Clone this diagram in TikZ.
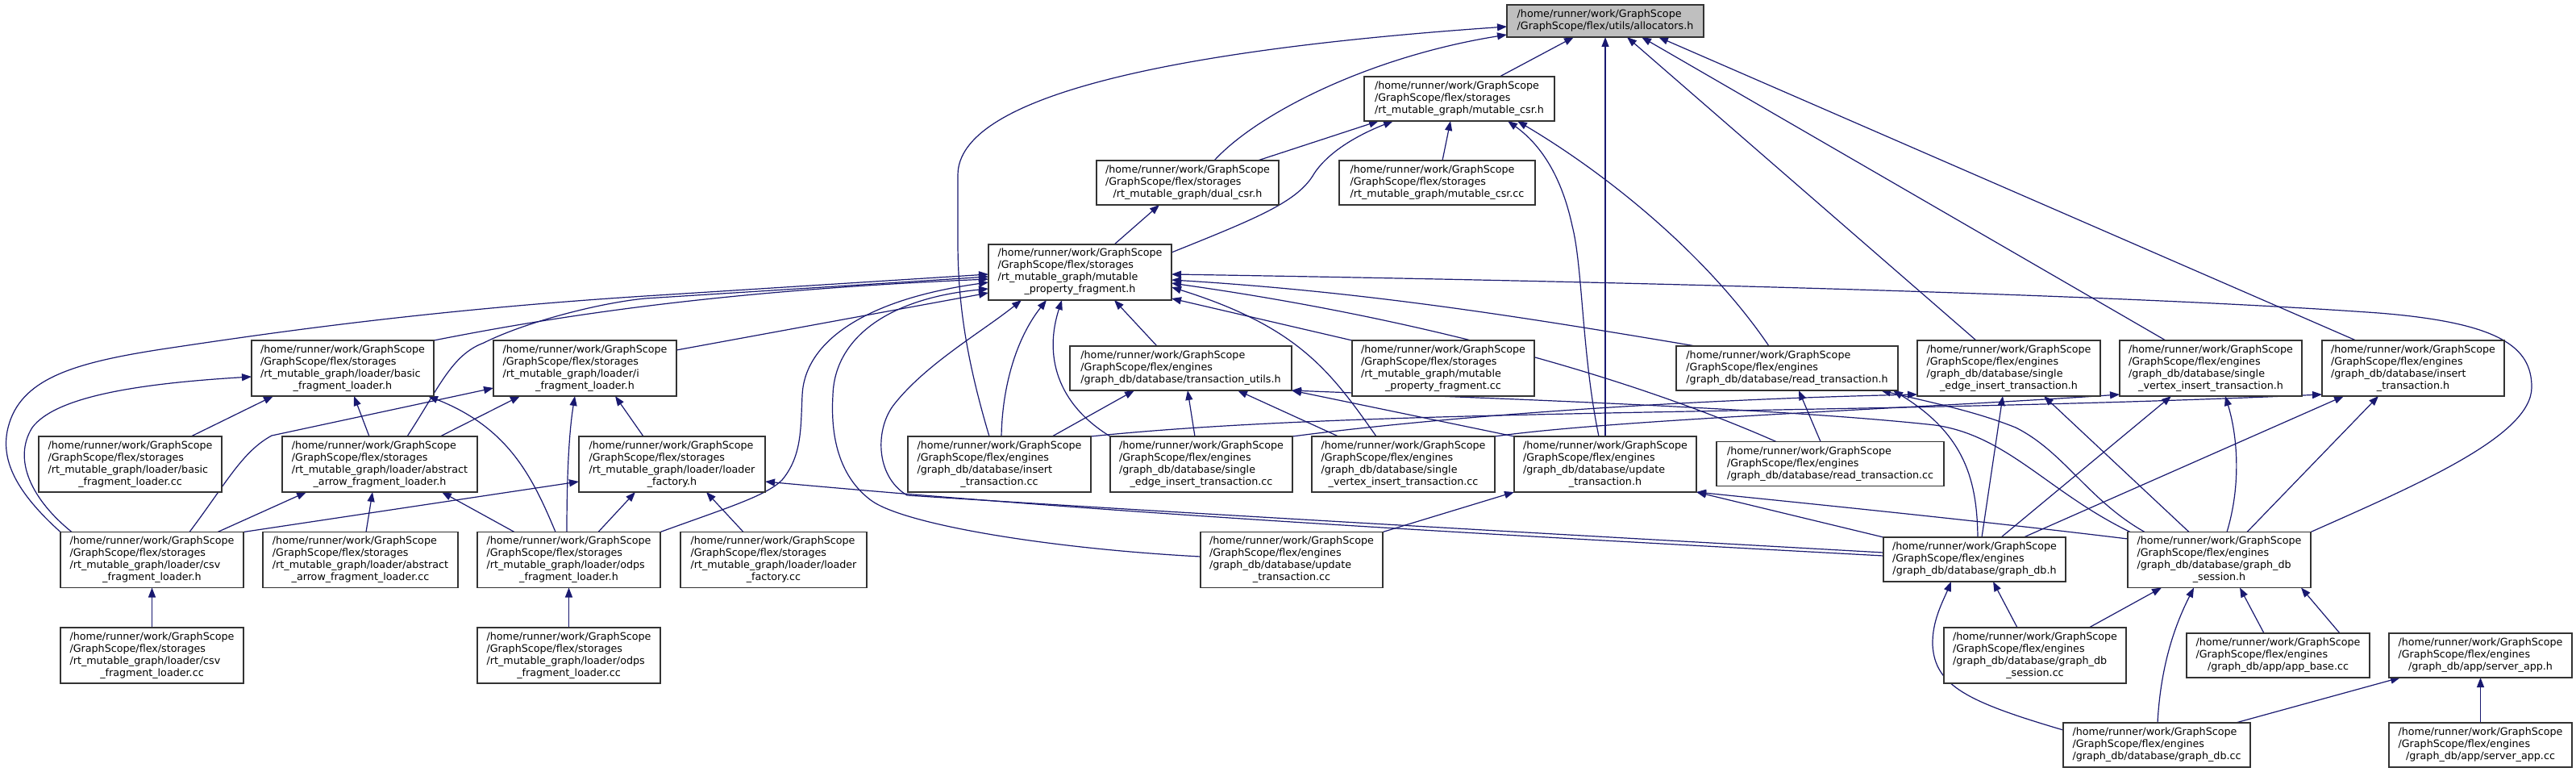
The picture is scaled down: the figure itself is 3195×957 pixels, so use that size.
\documentclass[tikz,border=0pt]{standalone}
\usepackage{fontspec}
\setmainfont{DejaVu Sans}
\usetikzlibrary{arrows.meta,backgrounds}
\definecolor{edgeblue}{HTML}{191970}
\newcommand{\lbox}[1]{\begin{tabular}{@{}l@{}}#1\end{tabular}}
\newcommand{\lastln}[1]{\multicolumn{1}{@{}c@{}}{#1}}
\newcommand{\HomeL}{/home/runner/work/GraphScope}
\newcommand{\StorL}{/GraphScope/flex/storages}
\newcommand{\EngL}{/GraphScope/flex/engines}
\tikzset{
  fb/.style={draw=black!80, fill=white, line width=1.3pt, inner sep=0pt, outer sep=0pt, font=\fontsize{12.7}{15}\selectfont},
  nd/.style 2 args={fb, minimum width=#1, minimum height=#2},
  ed/.style={draw=edgeblue, line width=1.2pt, -{Triangle[length=12pt,width=9pt]}},
}
\begin{document}
\begin{tikzpicture}[x=1pt,y=-1pt]
\useasboundingbox (0,0) rectangle (3195,957);
% ---------------- nodes ----------------
\node[nd={244}{40}, fill=black!25] (alloc) at (1991,26) {\lbox{\HomeL\\\lastln{/GraphScope/flex/utils/allocators.h}}};
\node[nd={236}{55}] (mcsrh) at (1810,122.5) {\lbox{\HomeL\\\StorL\\\lastln{/rt\_mutable\_graph/mutable\_csr.h}}};
\node[nd={243}{55}] (mcsrcc) at (1782.5,226.5) {\lbox{\HomeL\\\StorL\\\lastln{/rt\_mutable\_graph/mutable\_csr.cc}}};
\node[nd={226}{55}] (dual) at (1473,226.5) {\lbox{\HomeL\\\StorL\\\lastln{/rt\_mutable\_graph/dual\_csr.h}}};
\node[nd={227}{69}] (mpf) at (1339.5,337.5) {\lbox{\HomeL\\\StorL\\/rt\_mutable\_graph/mutable\\\lastln{\_property\_fragment.h}}};
% row 4
\node[nd={226}{69}] (bflh) at (425,456.5) {\lbox{\HomeL\\\StorL\\/rt\_mutable\_graph/loader/basic\\\lastln{\_fragment\_loader.h}}};
\node[nd={227}{69}] (iflh) at (725.5,456.5) {\lbox{\HomeL\\\StorL\\/rt\_mutable\_graph/loader/i\\\lastln{\_fragment\_loader.h}}};
\node[nd={275}{55}] (tu) at (1464.5,456.5) {\lbox{\HomeL\\\EngL\\\lastln{/graph\_db/database/transaction\_utils.h}}};
\node[nd={226}{69}] (mpfcc) at (1790,456.5) {\lbox{\HomeL\\\StorL\\/rt\_mutable\_graph/mutable\\\lastln{\_property\_fragment.cc}}};
\node[nd={275}{55}] (rth) at (2216.5,456.5) {\lbox{\HomeL\\\EngL\\\lastln{/graph\_db/database/read\_transaction.h}}};
\node[nd={227}{69}] (seh) at (2491.5,456.5) {\lbox{\HomeL\\\EngL\\/graph\_db/database/single\\\lastln{\_edge\_insert\_transaction.h}}};
\node[nd={226}{69}] (svh) at (2742,456.5) {\lbox{\HomeL\\\EngL\\/graph\_db/database/single\\\lastln{\_vertex\_insert\_transaction.h}}};
\node[nd={226}{69}] (ith) at (2993,456.5) {\lbox{\HomeL\\\EngL\\/graph\_db/database/insert\\\lastln{\_transaction.h}}};
% row 5
\node[nd={227}{69}] (bflcc) at (161.5,575.5) {\lbox{\HomeL\\\StorL\\/rt\_mutable\_graph/loader/basic\\\lastln{\_fragment\_loader.cc}}};
\node[nd={242}{69}] (aafh) at (471,575.5) {\lbox{\HomeL\\\StorL\\/rt\_mutable\_graph/loader/abstract\\\lastln{\_arrow\_fragment\_loader.h}}};
\node[nd={231}{69}] (lfh) at (833.5,575.5) {\lbox{\HomeL\\\StorL\\/rt\_mutable\_graph/loader/loader\\\lastln{\_factory.h}}};
\node[nd={227}{69}] (itcc) at (1239.5,575.5) {\lbox{\HomeL\\\EngL\\/graph\_db/database/insert\\\lastln{\_transaction.cc}}};
\node[nd={226}{69}] (secc) at (1490,575.5) {\lbox{\HomeL\\\EngL\\/graph\_db/database/single\\\lastln{\_edge\_insert\_transaction.cc}}};
\node[nd={227}{69}] (svcc) at (1740.5,575.5) {\lbox{\HomeL\\\EngL\\/graph\_db/database/single\\\lastln{\_vertex\_insert\_transaction.cc}}};
\node[nd={226}{69}] (uth) at (1991,575.5) {\lbox{\HomeL\\\EngL\\/graph\_db/database/update\\\lastln{\_transaction.h}}};
\node[nd={282}{55}] (rtcc) at (2270,575) {\lbox{\HomeL\\\EngL\\\lastln{/graph\_db/database/read\_transaction.cc}}};
% row 6
\node[nd={227}{69}] (csvh) at (188.5,694) {\lbox{\HomeL\\\StorL\\/rt\_mutable\_graph/loader/csv\\\lastln{\_fragment\_loader.h}}};
\node[nd={242}{69}] (aafcc) at (447,694) {\lbox{\HomeL\\\StorL\\/rt\_mutable\_graph/loader/abstract\\\lastln{\_arrow\_fragment\_loader.cc}}};
\node[nd={227}{69}] (odpsh) at (705.5,694) {\lbox{\HomeL\\\StorL\\/rt\_mutable\_graph/loader/odps\\\lastln{\_fragment\_loader.h}}};
\node[nd={231}{69}] (lfcc) at (959.5,694) {\lbox{\HomeL\\\StorL\\/rt\_mutable\_graph/loader/loader\\\lastln{\_factory.cc}}};
\node[nd={226}{69}] (utcc) at (1602,694) {\lbox{\HomeL\\\EngL\\/graph\_db/database/update\\\lastln{\_transaction.cc}}};
\node[nd={226}{55}] (gdbh) at (2449,693.5) {\lbox{\HomeL\\\EngL\\\lastln{/graph\_db/database/graph\_db.h}}};
\node[nd={227}{69}] (sessh) at (2752.5,694) {\lbox{\HomeL\\\EngL\\/graph\_db/database/graph\_db\\\lastln{\_session.h}}};
% row 7
\node[nd={227}{69}] (csvcc) at (188.5,812.5) {\lbox{\HomeL\\\StorL\\/rt\_mutable\_graph/loader/csv\\\lastln{\_fragment\_loader.cc}}};
\node[nd={227}{69}] (odpscc) at (705.5,812.5) {\lbox{\HomeL\\\StorL\\/rt\_mutable\_graph/loader/odps\\\lastln{\_fragment\_loader.cc}}};
\node[nd={226}{69}] (sesscc) at (2524,812.5) {\lbox{\HomeL\\\EngL\\/graph\_db/database/graph\_db\\\lastln{\_session.cc}}};
\node[nd={227}{55}] (appbase) at (2825.5,812.5) {\lbox{\HomeL\\\EngL\\\lastln{/graph\_db/app/app\_base.cc}}};
\node[nd={227}{55}] (sah) at (3076.5,812.5) {\lbox{\HomeL\\\EngL\\\lastln{/graph\_db/app/server\_app.h}}};
% row 8
\node[nd={232}{55}] (gdbcc) at (2675,923.5) {\lbox{\HomeL\\\EngL\\\lastln{/graph\_db/database/graph\_db.cc}}};
\node[nd={227}{55}] (sacc) at (3076.5,923.5) {\lbox{\HomeL\\\EngL\\\lastln{/graph\_db/app/server\_app.cc}}};
% ---------------- edges ----------------
\begin{scope}[on background layer]
\fill[white] (0,0) rectangle (3195,957);
% allocators.h
\draw[ed] (mcsrh.north -| 1860,0) -- (alloc.south -| 1952,0);
\draw[ed] (dual.north -| 1506,0) .. controls (1560,140) and (1700,70) .. (alloc.west |- 0,43);
\draw[ed] (itcc.north -| 1227,0) .. controls (1200,450) and (1188,380) .. (1188,300) -- (1188,217) .. controls (1188,120) and (1450,62) .. (alloc.west |- 0,33);
\draw[ed] (uth.north -| 1991,0) -- (alloc.south -| 1991,0);
\draw[ed] (seh.north -| 2451,0) -- (alloc.south -| 2018,0);
\draw[ed] (svh.north -| 2686,0) -- (alloc.south -| 2036,0);
\draw[ed] (ith.north -| 2922,0) -- (alloc.south -| 2057,0);
% mutable_csr.h
\draw[ed] (dual.north -| 1560,0) -- (mcsrh.south -| 1710,0);
\draw[ed] (mpf.east |- 0,313) .. controls (1560,270) and (1610,250) .. (1630,215) .. controls (1650,185) and (1690,165) .. (mcsrh.south -| 1728,0);
\draw[ed] (mcsrcc.north -| 1789,0) -- (mcsrh.south -| 1799,0);
\draw[ed] (uth.north -| 1983,0) .. controls (1962,440) and (1963,330) .. (1950,280) .. controls (1935,210) and (1905,175) .. (mcsrh.south -| 1870,0);
\draw[ed] (rth.north -| 2194,0) .. controls (2120,320) and (2000,220) .. (mcsrh.south -| 1882,0);
% dual_csr.h
\draw[ed] (mpf.north -| 1382,0) -- (dual.south -| 1438,0);
% mutable_property_fragment.h
\draw[ed] (csvh.north west) .. controls (20,610) and (0,570) .. (10,530) .. controls (25,470) and (90,450) .. (200,433) .. controls (320,415) and (520,385) .. (800,367) -- (mpf.west |- 0,340);
\draw[ed] (aafh.north -| 505,0) .. controls (545,480) and (560,440) .. (600,425) .. controls (650,400) and (740,376) .. (800,370) -- (mpf.west |- 0,343);
\draw[ed] (bflh.north east) .. controls (700,390) and (900,360) .. (mpf.west |- 0,346);
\draw[ed] (iflh.east |- 0,434) -- (mpf.west |- 0,363);
\draw[ed] (odpsh.north east) .. controls (900,630) and (950,615) .. (970,595) .. controls (995,565) and (993,530) .. (995,490) .. controls (998,420) and (1080,370) .. (mpf.west |- 0,350);
\draw[ed] (utcc.west |- 0,690) .. controls (1300,680) and (1120,650) .. (1080,620) .. controls (1040,590) and (1030,540) .. (1033,490) .. controls (1035,420) and (1100,370) .. (mpf.west |- 0,358);
\draw[ed] (gdbh.west |- 0,685) .. controls (1800,655) and (1400,632) .. (1125,614) .. controls (1085,590) and (1085,530) .. (1110,500) .. controls (1150,450) and (1220,410) .. (mpf.south -| 1267,0);
\draw[ed] (gdbh.west |- 0,689) .. controls (1800,660) and (1400,638) .. (lfh.east |- 0,597);
\draw[ed] (itcc.north -| 1242,0) .. controls (1243,480) and (1260,420) .. (mpf.south -| 1298,0);
\draw[ed] (secc.north -| 1377,0) .. controls (1310,500) and (1295,440) .. (mpf.south -| 1317,0);
\draw[ed] (tu.north -| 1435,0) -- (mpf.south -| 1382,0);
\draw[ed] (mpfcc.north west) -- (mpf.east |- 0,370);
\draw[ed] (svcc.north -| 1707,0) .. controls (1650,460) and (1610,405) .. (mpf.east |- 0,356);
\draw[ed] (rth.north -| 2103,0) .. controls (1900,395) and (1700,362) .. (mpf.east |- 0,347);
\draw[ed] (rtcc.north -| 2203,0) .. controls (2050,480) and (1800,400) .. (mpf.east |- 0,351);
\draw[ed] (sessh.north east) .. controls (3000,600) and (3140,540) .. (3140,480) .. controls (3140,430) and (3100,400) .. (2950,388) .. controls (2700,370) and (2200,352) .. (mpf.east |- 0,340);
% transaction_utils.h
\draw[ed] (itcc.north -| 1305,0) -- (tu.south -| 1407,0);
\draw[ed] (secc.north -| 1482,0) -- (tu.south -| 1473,0);
\draw[ed] (svcc.north -| 1660,0) -- (tu.south -| 1535,0);
\draw[ed] (uth.north west) -- (tu.south east);
\draw[ed] (sessh.north -| 2642,0) .. controls (2540,610) and (2490,540) .. (2400,527) .. controls (2200,505) and (1800,492) .. (tu.south east);
% insert headers from their sources
\draw[ed] (secc.north east) .. controls (1800,515) and (2100,495) .. (seh.west |- 0,489);
\draw[ed] (svcc.north east) .. controls (2000,520) and (2400,505) .. (svh.west |- 0,489);
\draw[ed] (itcc.north east) .. controls (1700,505) and (2300,515) .. (ith.west |- 0,489);
% update_transaction.h
\draw[ed] (utcc.north east) -- (uth.south west);
\draw[ed] (gdbh.north west) -- (uth.south east);
\draw[ed] (sessh.west |- 0,668) .. controls (2450,645) and (2250,625) .. (uth.south east);
% read_transaction.h
\draw[ed] (rtcc.north -| 2258,0) -- (rth.south -| 2231,0);
\draw[ed] (gdbh.north -| 2453,0) .. controls (2452,600) and (2440,540) .. (rth.south -| 2348,0);
\draw[ed] (sessh.north -| 2660,0) .. controls (2590,620) and (2560,560) .. (2500,530) .. controls (2450,510) and (2400,500) .. (rth.south -| 2333,0);
% graph_db.h / graph_db_session.h to row 4
\draw[ed] (gdbh.north -| 2458,0) -- (seh.south -| 2484,0);
\draw[ed] (gdbh.north -| 2482,0) -- (svh.south -| 2693,0);
\draw[ed] (gdbh.north -| 2510,0) -- (ith.south -| 2907,0);
\draw[ed] (sessh.north -| 2715,0) -- (seh.south -| 2535,0);
\draw[ed] (sessh.north -| 2762,0) .. controls (2780,600) and (2775,540) .. (svh.south -| 2760,0);
\draw[ed] (sessh.north -| 2787,0) -- (ith.south -| 2950,0);
% bottom right
\draw[ed] (sesscc.north -| 2502,0) -- (gdbh.south -| 2472,0);
\draw[ed] (sesscc.north -| 2591,0) -- (sessh.south -| 2681,0);
\draw[ed] (gdbcc.west |- 0,905) .. controls (2440,870) and (2400,850) .. (2397,800) .. controls (2396,770) and (2410,745) .. (gdbh.south -| 2420,0);
\draw[ed] (gdbcc.north -| 2676,0) .. controls (2680,820) and (2700,770) .. (sessh.south -| 2721,0);
\draw[ed] (gdbcc.north -| 2773,0) -- (sah.south -| 2977,0);
\draw[ed] (appbase.north -| 2808,0) -- (sessh.south -| 2778,0);
\draw[ed] (sah.north -| 2902,0) -- (sessh.south -| 2854,0);
\draw[ed] (sacc.north) -- (sah.south);
% loaders
\draw[ed] (csvcc.north) -- (csvh.south);
\draw[ed] (odpscc.north) -- (odpsh.south);
\draw[ed] (csvh.north -| 89,0) .. controls (40,620) and (15,570) .. (40,530) .. controls (70,490) and (180,475) .. (bflh.west |- 0,467);
\draw[ed] (csvh.north -| 235,0) .. controls (280,600) and (300,560) .. (337,540) -- (iflh.west |- 0,481);
\draw[ed] (csvh.north -| 270,0) -- (aafh.south -| 380,0);
\draw[ed] (csvh.north east) -- (lfh.west |- 0,597);
\draw[ed] (bflcc.north -| 237,0) -- (bflh.south -| 339,0);
\draw[ed] (aafh.north -| 458,0) -- (bflh.south -| 439,0);
\draw[ed] (aafh.north -| 546,0) -- (iflh.south -| 645,0);
\draw[ed] (lfh.north -| 798,0) -- (iflh.south -| 763,0);
\draw[ed] (aafcc.north -| 454,0) -- (aafh.south -| 462,0);
\draw[ed] (odpsh.north -| 638,0) -- (aafh.south -| 548,0);
\draw[ed] (odpsh.north -| 703,0) .. controls (703,600) and (705,540) .. (iflh.south -| 713,0);
\draw[ed] (odpsh.north -| 742,0) -- (lfh.south -| 788,0);
\draw[ed] (odpsh.north -| 689,0) .. controls (660,590) and (630,530) .. (bflh.south -| 531,0);
\draw[ed] (lfcc.north -| 922,0) -- (lfh.south -| 876,0);
\end{scope}
\end{tikzpicture}
\end{document}
